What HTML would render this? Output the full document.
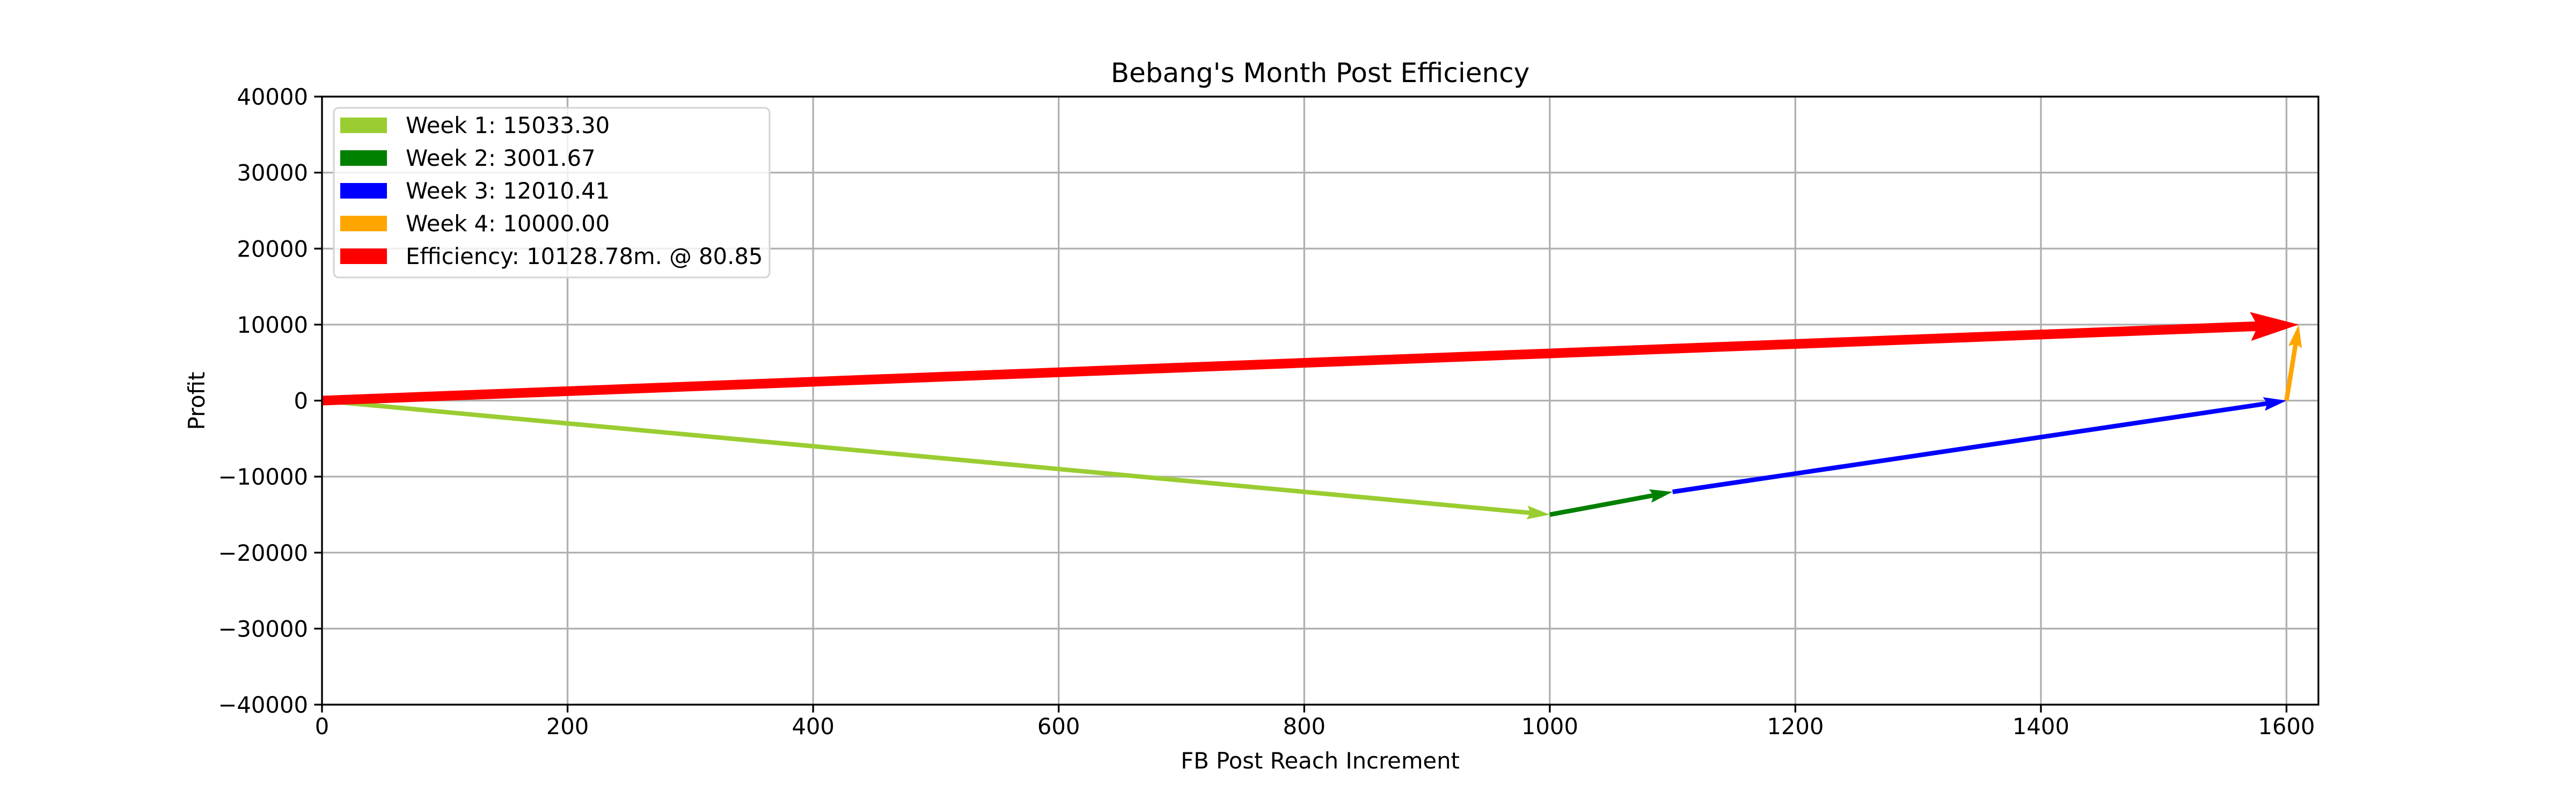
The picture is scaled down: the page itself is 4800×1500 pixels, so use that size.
<!DOCTYPE html>
<html><head><meta charset="utf-8"><style>
html,body{margin:0;padding:0;background:#fff;}
svg{display:block;font-family:"DejaVu Sans","Liberation Sans",sans-serif;}
</style></head><body>
<svg id="chart" width="4800" height="1500" viewBox="0 0 4800 1500" xmlns="http://www.w3.org/2000/svg">
<rect x="0" y="0" width="4800" height="1500" fill="#fff"/>
<text x="2460" y="153" font-size="50" text-anchor="middle">Bebang's Month Post Efficiency</text>
<g id="grid"></g>
<g id="arrows"></g>
<g id="axes"></g>
<text x="2460" y="1432" font-size="41.7" text-anchor="middle">FB Post Reach Increment</text>
<text transform="translate(381,747) rotate(-90)" font-size="41.7" text-anchor="middle">Profit</text>
<g id="legend"></g>
</svg>
<script>
const xTicks = [0,200,400,600,800,1000,1200,1400,1600];
const yTicks = [-40000,-30000,-20000,-10000,0,10000,20000,30000,40000];
const startX = [0,1000,1100,1600,0];
const startY = [0,-15000,-12000,0,0];
const deltaX = [1000,100,500,10,1610];
const deltaY = [-15000,3000,12000,10000,10000];
const seriesNames = ["Week 1: 15033.30","Week 2: 3001.67","Week 3: 12010.41","Week 4: 10000.00","Efficiency: 10128.78m. @ 80.85"];
const colors = ["#9acd32","#008000","#0000ff","#ffa500","#ff0000"];
const widths = [8.5,8.5,8.5,8.5,18];

const NS="http://www.w3.org/2000/svg";
const L=600,R=4320,T=180,B=1313,XMIN=0,XMAX=1626,YMIN=-40000,YMAX=40000;
const sx=v=>L+(v-XMIN)/(XMAX-XMIN)*(R-L);
const sy=v=>B-(v-YMIN)/(YMAX-YMIN)*(B-T);
function mk(tag,attrs,parent){const e=document.createElementNS(NS,tag);for(const k in attrs)e.setAttribute(k,attrs[k]);parent.appendChild(e);return e;}
const grid=document.getElementById('grid'),axes=document.getElementById('axes'),arrows=document.getElementById('arrows'),legend=document.getElementById('legend');
const fmt=v=>v<0?'\u2212'+Math.abs(v):String(v);
xTicks.forEach(v=>{
  const g=mk('line',{x1:sx(v),x2:sx(v),y1:T,y2:B,stroke:'#b0b0b0','stroke-width':3.3},grid);
  
  
  const t=mk('line',{x1:sx(v),x2:sx(v),y1:B,y2:B+14.6,stroke:'#000','stroke-width':3.3},axes);
  
  
  const l=mk('text',{x:sx(v),y:B+55,'font-size':41.7,'text-anchor':'middle'},axes);
  l.textContent=fmt(v);
  
  
});
yTicks.forEach(v=>{
  const g=mk('line',{x1:L,x2:R,y1:sy(v),y2:sy(v),stroke:'#b0b0b0','stroke-width':3.3},grid);
  
  
  const t=mk('line',{x1:L-14.6,x2:L,y1:sy(v),y2:sy(v),stroke:'#000','stroke-width':3.3},axes);
  
  
  const l=mk('text',{x:L-26,y:sy(v)+15,'font-size':41.7,'text-anchor':'end'},axes);
  l.textContent=fmt(v);
  
  
});
const frame=mk('rect',{x:L,y:T,width:R-L,height:B-T,fill:'none',stroke:'#000','stroke-width':3.3},axes);



startX.forEach((x0,i)=>{
  const px0=sx(x0),py0=sy(startY[i]),px1=sx(x0+deltaX[i]),py1=sy(startY[i]+deltaY[i]);
  const dx=px1-px0,dy=py1-py0,len=Math.hypot(dx,dy),ux=dx/len,uy=dy/len,nx=-uy,ny=ux;
  const w=widths[i],hl=5*w,hal=4.5*w,hw=1.5*w,sw=w/2;
  const P=(a,b)=>[px0+ux*a+nx*b,py0+uy*a+ny*b];
  const pts=[P(0,sw),P(len-hal,sw),P(len-hl,hw),P(len,0),P(len-hl,-hw),P(len-hal,-sw),P(0,-sw)];
  const a=mk('polygon',{points:pts.map(p=>p[0].toFixed(1)+','+p[1].toFixed(1)).join(' '),fill:colors[i]},arrows);
  
  
});

const lb=mk('rect',{x:622,y:201,width:812,height:316,rx:9,fill:'#fff','fill-opacity':0.8,stroke:'#d6d6d6','stroke-width':3.3},legend);


seriesNames.forEach((n,i)=>{
  const y=219+i*61;
  const g=mk('g',{},legend);
  
  
  mk('rect',{x:634,y:y,width:87,height:29,fill:colors[i]},g);
  const t=mk('text',{x:756,y:y+29,'font-size':41.7},g);
  t.textContent=n;
});
</script>
</body></html>
